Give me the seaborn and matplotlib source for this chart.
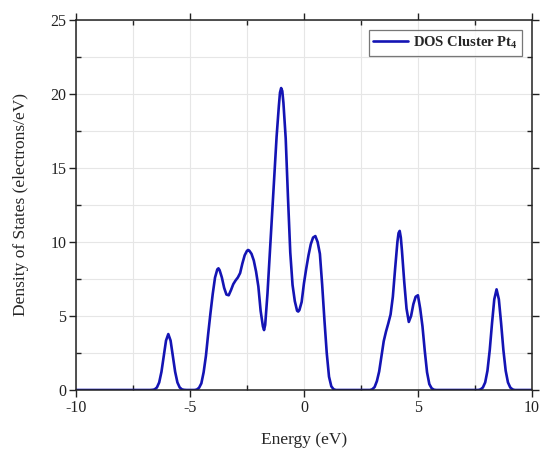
import matplotlib
matplotlib.use("Agg")
import matplotlib.pyplot as plt
from matplotlib.ticker import MultipleLocator
import seaborn as sns
import pandas as pd

# Energy grid (eV) and DOS values (electrons/eV)
energy = [-10.0,
          -6.75, -6.65, -6.55, -6.45, -6.35, -6.25, -6.15, -6.05, -5.95, -5.85,
          -5.75, -5.65, -5.55, -5.45, -5.35, -5.25, -5.15,
          -4.8, -4.7, -4.6, -4.5, -4.4, -4.3, -4.2, -4.1, -4.0, -3.9, -3.8, -3.75,
          -3.7, -3.6, -3.5, -3.4, -3.3, -3.2, -3.1, -3.0, -2.9, -2.8, -2.7, -2.6,
          -2.5, -2.45, -2.4, -2.3, -2.2, -2.1, -2.0, -1.9, -1.8, -1.75, -1.7, -1.6,
          -1.5, -1.4, -1.3, -1.2, -1.1, -1.05, -1.0, -0.95, -0.9, -0.8, -0.7, -0.6,
          -0.5, -0.4, -0.3, -0.25, -0.2, -0.1, 0.0, 0.1, 0.2, 0.3, 0.4, 0.5, 0.6,
          0.7, 0.8, 0.9, 1.0, 1.1, 1.2, 1.3, 1.4,
          2.9, 3.0, 3.1, 3.2, 3.3, 3.4, 3.5, 3.6, 3.7, 3.8, 3.9, 4.0, 4.1, 4.15,
          4.2, 4.25, 4.3, 4.4, 4.5, 4.6, 4.7, 4.8, 4.9, 5.0, 5.1, 5.2, 5.3, 5.4,
          5.5, 5.6, 5.7, 5.8,
          7.65, 7.75, 7.85, 7.95, 8.05, 8.15, 8.25, 8.35, 8.45, 8.55, 8.65, 8.75,
          8.85, 8.95, 9.05, 9.15, 9.25,
          10.0]

dos = [0.0,
       0.0, 0.01, 0.04, 0.17, 0.51, 1.23, 2.29, 3.34, 3.78, 3.34,
       2.29, 1.23, 0.51, 0.17, 0.04, 0.01, 0.0,
       0.0, 0.03, 0.15, 0.45, 1.2, 2.3, 3.8, 5.2, 6.5, 7.6, 8.15, 8.22,
       8.1, 7.6, 6.9, 6.45, 6.4, 6.75, 7.15, 7.4, 7.6, 7.9, 8.55, 9.1,
       9.4, 9.46, 9.42, 9.2, 8.75, 8.0, 7.0, 5.35, 4.3, 4.05, 4.4, 6.5,
       9.1, 11.8, 14.5, 17.1, 19.2, 20.1, 20.4, 20.2, 19.4, 17.0, 13.0, 9.3,
       7.1, 6.0, 5.35, 5.3, 5.4, 5.95, 7.2, 8.2, 9.1, 9.85, 10.3, 10.4, 10.0,
       9.2, 7.1, 4.7, 2.5, 0.9, 0.25, 0.05, 0.0,
       0.0, 0.05, 0.2, 0.6, 1.25, 2.3, 3.3, 3.95, 4.5, 5.1, 6.3, 8.2, 10.0, 10.6,
       10.75, 10.3, 9.4, 7.3, 5.5, 4.6, 5.0, 5.8, 6.3, 6.4, 5.5, 4.3, 2.65, 1.2,
       0.4, 0.12, 0.02, 0.0,
       0.0, 0.04, 0.17, 0.51, 1.30, 2.69, 4.50, 6.13, 6.8, 6.13, 4.50, 2.69,
       1.30, 0.51, 0.17, 0.04, 0.0,
       0.0]

series_label = r"DOS Cluster Pt$_{\mathbf{4}}$"
x_label = "Energy (eV)"
y_label = "Density of States (electrons/eV)"

df = pd.DataFrame({"Energy": energy, "DOS": dos})

sns.set_theme(style="ticks")
plt.rcParams["font.family"] = ["Liberation Serif", "DejaVu Serif"]
plt.rcParams["mathtext.fontset"] = "custom"
plt.rcParams["mathtext.rm"] = "Liberation Serif"
plt.rcParams["mathtext.bf"] = "Liberation Serif:bold"
plt.rcParams["axes.unicode_minus"] = False

fig = plt.figure(figsize=(5.4, 4.49), dpi=100)
ax = fig.add_axes([0.1407, 0.1314, 0.8443, 0.8241])

sns.lineplot(data=df, x="Energy", y="DOS", ax=ax, color="#1414B4",
             linewidth=1.9, label=series_label, estimator=None, sort=False)
for ln in ax.get_lines():
    ln.set_solid_joinstyle("round")

ax.set_xlim(-10, 10)
ax.set_ylim(0, 25)
ax.xaxis.set_major_locator(MultipleLocator(5))
ax.xaxis.set_minor_locator(MultipleLocator(2.5))
ax.yaxis.set_major_locator(MultipleLocator(5))
ax.yaxis.set_minor_locator(MultipleLocator(2.5))

ax.grid(True, which="both", color="#e6e6e6", linewidth=0.8)
ax.set_axisbelow(True)

for s in ax.spines.values():
    s.set_color("#222222")
    s.set_linewidth(1.1)

ax.tick_params(axis="both", which="major", direction="out", length=5,
               width=1.0, labelsize=11.5, colors="#222222", pad=2)
ax.tick_params(axis="both", which="minor", direction="in", length=3.5,
               width=1.0, colors="#222222")
ax.tick_params(top=True, right=True, which="both")

ax.set_xlabel(x_label, fontsize=12.5, labelpad=12)
ax.set_ylabel(y_label, fontsize=12.5, labelpad=15)

leg = ax.legend(loc="upper right", frameon=True, fancybox=False,
                prop={"weight": "bold", "size": 10.5}, handlelength=2.4,
                borderpad=0.3, borderaxespad=0.7, handletextpad=0.3)
leg.get_frame().set_edgecolor("#555555")
leg.get_frame().set_linewidth(0.9)

fig.savefig("out.png", dpi=100)
